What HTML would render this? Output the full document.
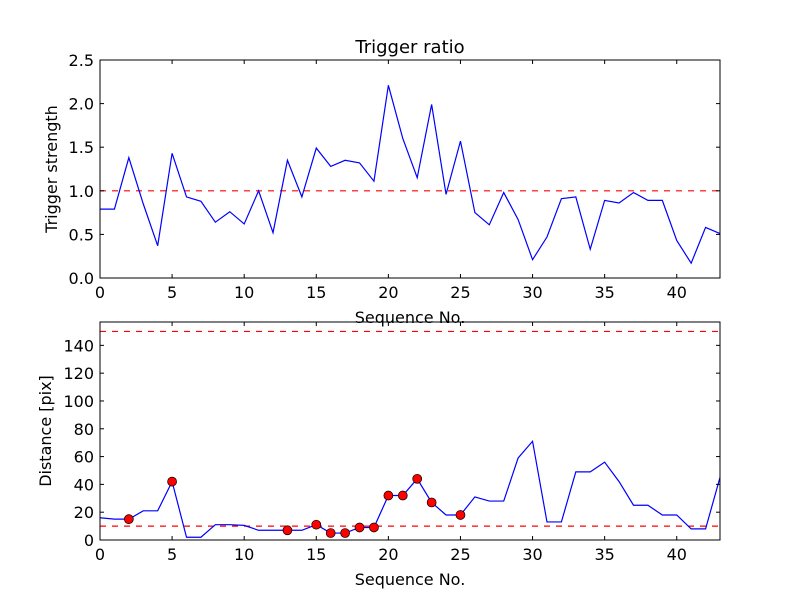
<!DOCTYPE html>
<html><head><meta charset="utf-8"><style>
body{margin:0;background:#fff}
svg{display:block;font-family:"DejaVu Sans","Liberation Sans",sans-serif}
</style></head><body>
<svg id="c" width="800" height="600"></svg>
<script>
const seq = Array.from({length:44},(_,i)=>i);
const strength = [0.79,0.79,1.38,0.85,0.37,1.43,0.93,0.88,0.64,0.76,0.62,1.0,0.52,1.35,0.93,1.49,1.28,1.35,1.32,1.11,2.21,1.6,1.15,1.99,0.96,1.57,0.75,0.61,0.98,0.67,0.21,0.47,0.91,0.93,0.33,0.89,0.86,0.98,0.89,0.89,0.43,0.17,0.58,0.51];
const distance = [16,15,15,21,21,42,2,2,11,11,10.5,7,7,7,7,11,5,5,9,9,32,32,44,27,18,18,31,28,28,59,71,13,13,49,49,56,42,25,25,18,18,8,8,45];
const markerIdx = [2,5,13,15,16,17,18,19,20,21,22,23,25];
const xTicks = [0,5,10,15,20,25,30,35,40];
const topTicks = ["0.0","0.5","1.0","1.5","2.0","2.5"];
const botTicks = [0,20,40,60,80,100,120,140];
const topThreshold = 1.0;
const botThresholds = [10,150];

const NS="http://www.w3.org/2000/svg";
const svg=document.getElementById('c');
function el(t,a,p){const e=document.createElementNS(NS,t);for(const k in a)e.setAttribute(k,a[k]);(p||svg).appendChild(e);return e;}
function txt(s,a){const e=el('text',a);e.textContent=s;return e;}

function panel(cfg){
  const L=100,R=720,T=cfg.top,B=cfg.bottom;
  const x=v=>L+(v-0)/(43-0)*(R-L);
  const y=v=>B-(v-cfg.ymin)/(cfg.ymax-cfg.ymin)*(B-T);
  const g=el('g',{});
  
  
  cfg.thr.forEach(t=>{const l=el('line',{x1:L,x2:R,y1:y(t),y2:y(t),stroke:'#ff0000','stroke-width':1.2,'stroke-dasharray':'6,6'},g);
    });
  const pts=cfg.data.map((v,i)=>x(seq[i])+','+y(v)).join(' ');
  const pl=el('polyline',{points:pts,fill:'none',stroke:'#0000ff','stroke-width':1.2},g);
  
  if(cfg.markers){cfg.markers.forEach(i=>{const c=el('circle',{cx:x(seq[i]),cy:y(cfg.data[i]),r:4.5,fill:'#ff0000',stroke:'#000','stroke-width':0.7},g);
    });}
  const fr=el('rect',{x:L,y:T,width:R-L,height:B-T,fill:'none',stroke:'#000','stroke-width':1},g);
  
  xTicks.forEach(v=>{const xx=x(v);
    el('line',{x1:xx,x2:xx,y1:B,y2:B-4,stroke:'#000'},g);el('line',{x1:xx,x2:xx,y1:T,y2:T+4,stroke:'#000'},g);
    const t=txt(String(v),{x:xx,y:B+20,'font-size':16,'text-anchor':'middle'});
    });
  cfg.yt.forEach(s=>{const yy=y(+s);
    el('line',{x1:L,x2:L+4,y1:yy,y2:yy,stroke:'#000'},g);el('line',{x1:R,x2:R-4,y1:yy,y2:yy,stroke:'#000'},g);
    const t=txt(String(s),{x:L-6,y:yy+6,'font-size':16,'text-anchor':'end'});
    });
  const xl=txt('Sequence No.',{x:410,y:B+45,'font-size':16,'text-anchor':'middle'});
  
  const cy=(T+B)/2;
  const yl=txt(cfg.ylabel,{x:cfg.ylx,y:cy,'font-size':16,'text-anchor':'middle',transform:`rotate(-90 ${cfg.ylx} ${cy})`});
  
}
const title=txt('Trigger ratio',{x:410,y:53,'font-size':18,'text-anchor':'middle'});

panel({name:'trigger-strength-panel',top:60,bottom:278,ymin:0,ymax:2.5,data:strength,thr:[topThreshold],yt:topTicks,ylabel:'Trigger strength',ylx:57});
panel({name:'distance-panel',top:322,bottom:540,ymin:0,ymax:156.8,data:distance,thr:botThresholds,yt:botTicks,markers:markerIdx,ylabel:'Distance [pix]',ylx:51});
</script>
</body></html>
